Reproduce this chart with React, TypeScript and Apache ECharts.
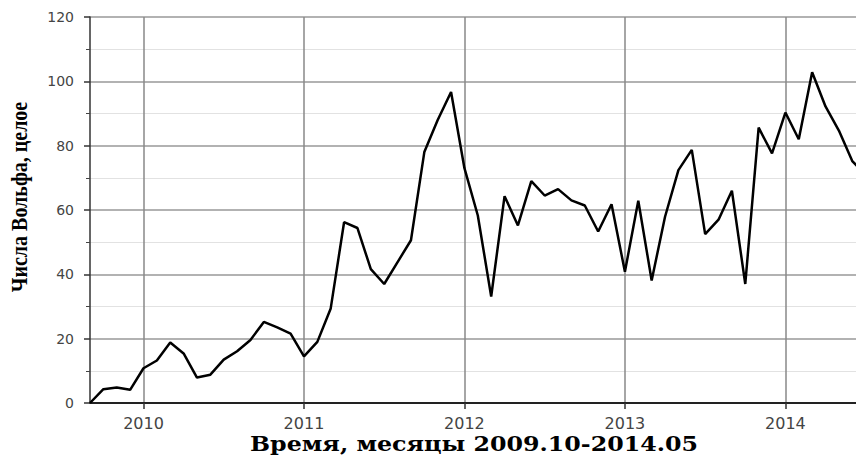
import React, { useEffect, useRef } from "react";
import * as echarts from "echarts";

// Monthly Wolf numbers, Aug 2009 .. Jun 2014
const years: number[] = [
  2009, 2009, 2009, 2009, 2009,
  2010, 2010, 2010, 2010, 2010, 2010, 2010, 2010, 2010, 2010, 2010, 2010,
  2011, 2011, 2011, 2011, 2011, 2011, 2011, 2011, 2011, 2011, 2011, 2011,
  2012, 2012, 2012, 2012, 2012, 2012, 2012, 2012, 2012, 2012, 2012, 2012,
  2013, 2013, 2013, 2013, 2013, 2013, 2013, 2013, 2013, 2013, 2013, 2013,
  2014, 2014, 2014, 2014, 2014, 2014,
];
const months: number[] = [
  8, 9, 10, 11, 12,
  1, 2, 3, 4, 5, 6, 7, 8, 9, 10, 11, 12,
  1, 2, 3, 4, 5, 6, 7, 8, 9, 10, 11, 12,
  1, 2, 3, 4, 5, 6, 7, 8, 9, 10, 11, 12,
  1, 2, 3, 4, 5, 6, 7, 8, 9, 10, 11, 12,
  1, 2, 3, 4, 5, 6,
];
const wolf: number[] = [
  0.0, 4.3, 4.8, 4.1, 10.8,
  13.2, 18.8, 15.4, 7.9, 8.8, 13.5, 16.1, 19.6, 25.2, 23.5, 21.6, 14.5,
  19.0, 29.4, 56.2, 54.4, 41.6, 37.0, 43.8, 50.6, 78.0, 88.0, 96.7, 73.0,
  58.3, 33.1, 64.3, 55.2, 69.0, 64.5, 66.5, 63.0, 61.4, 53.3, 61.8, 40.8,
  62.9, 38.1, 57.9, 72.4, 78.7, 52.5, 57.0, 66.0, 37.0, 85.6, 77.6, 90.3,
  82.0, 102.8, 92.2, 84.7, 75.2, 71.0,
];
const yearTicks: number[] = [2010, 2011, 2012, 2013, 2014];
const xTitle = "Время, месяцы 2009.10-2014.05";
const yTitle = "Числа Вольфа, целое";
const xMin = 2009 + 8 / 12;
const xMax = 2014.44;

export default function App() {
  const ref = useRef<HTMLDivElement>(null);
  useEffect(() => {
    if (!ref.current) return;
    const chart = echarts.init(ref.current, null, { renderer: "svg" });
    const data = wolf.map((v, i) => [years[i] + months[i] / 12, v]);
    chart.setOption({
      animation: false,
      backgroundColor: "#ffffff",
      grid: { left: 90, top: 17, right: 0, bottom: 52, outerBoundsMode: "none", containLabel: false },
      graphic: [
        {
          type: "text",
          x: 474,
          y: 444,
          scaleX: 1.13,
          style: {
            text: xTitle,
            fontFamily: "DejaVu Serif",
            fontWeight: "bold",
            fontSize: 21,
            fill: "#000",
            textAlign: "center",
            textVerticalAlign: "middle",
          },
        },
        {
          type: "text",
          x: 20,
          y: 197,
          rotation: Math.PI / 2,
          scaleY: 1.15,
          style: {
            text: yTitle,
            fontFamily: "Liberation Serif",
            fontWeight: "bold",
            fontSize: 20,
            fill: "#000",
            textAlign: "center",
            textVerticalAlign: "middle",
          },
        },
      ],
      xAxis: {
        type: "value",
        min: xMin,
        max: xMax,
        axisLine: { onZero: false, lineStyle: { color: "#222", width: 2 } },
        axisTick: {
          show: true,
          customValues: yearTicks,
          length: 6,
          lineStyle: { color: "#333", width: 1.5 },
        },
        axisLabel: {
          customValues: yearTicks,
          formatter: (v: number) => String(Math.round(v)),
          fontFamily: "DejaVu Sans",
          fontSize: 16,
          color: "#444",
          margin: 12,
        },
        splitLine: { show: true, lineStyle: { color: "#888", width: 1.5 } },
      },
      yAxis: {
        type: "value",
        min: 0,
        max: 120,
        interval: 20,
        axisLine: { show: true, lineStyle: { color: "#333", width: 1.5 } },
        axisTick: { show: true, length: 6, lineStyle: { color: "#333", width: 1.5 } },
        minorTick: { show: true, splitNumber: 2, length: 4, lineStyle: { color: "#444" } },
        axisLabel: {
          fontFamily: "DejaVu Sans",
          fontSize: 14,
          color: "#444",
          margin: 16,
        },
        splitLine: { show: true, lineStyle: { color: "#999", width: 1.5 } },
        minorSplitLine: { show: true, lineStyle: { color: "#e2e2e2", width: 1 } },
      },
      series: [
        {
          type: "line",
          data,
          showSymbol: false,
          symbol: "none",
          lineStyle: { color: "#000", width: 2.5 },
          clip: true,
          z: 5,
        },
      ],
    });
    return () => chart.dispose();
  }, []);
  return <div ref={ref} style={{ width: 856, height: 455, position: "absolute", left: 0, top: 0 }} />;
}
